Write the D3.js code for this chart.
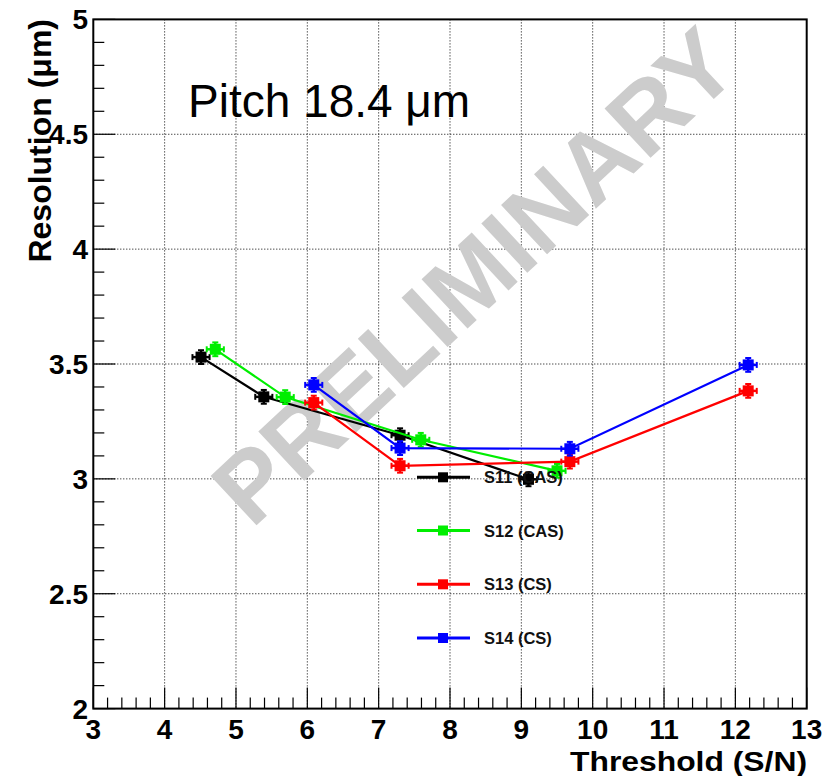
<!DOCTYPE html>
<html><head><meta charset="utf-8">
<script src="https://cdn.jsdelivr.net/npm/d3@7"></script>
<style>body{margin:0;background:#fff}svg{display:block}</style>
</head><body>
<script>
// ---- data ----
const xTicks = [3,4,5,6,7,8,9,10,11,12,13];
const yTicks = [2,2.5,3,3.5,4,4.5,5];
const yTickLabels = ["2","2.5","3","3.5","4","4.5","5"];
const seriesNames = ["S11 (CAS)","S12 (CAS)","S13 (CS)","S14 (CS)"];
const seriesColors = ["#000000","#00ee00","#ff0000","#0000ff"];
const s11x = [4.51,5.39,7.30,9.10];
const s11y = [3.53,3.357,3.19,2.998];
const s12x = [4.71,5.69,7.59,9.50];
const s12y = [3.564,3.356,3.17,3.035];
const s13x = [6.09,7.30,9.68,12.18];
const s13y = [3.332,3.057,3.075,3.383];
const s14x = [6.09,7.30,9.68,12.18];
const s14y = [3.409,3.134,3.131,3.496];
const xErr = [0.12,0.12,0.12,0.12];
const yErr = [0.03,0.03,0.03,0.03];
const seriesX = [s11x,s12x,s13x,s14x];
const seriesY = [s11y,s12y,s13y,s14y];

const W=837,H=776;
const L=93.3,R=806.7,T=19.4,B=708.6;
const svg=d3.select("body").append("svg").attr("width",W).attr("height",H);
const x=d3.scaleLinear().domain([3,13]).range([L,R]);
const y=d3.scaleLinear().domain([2,5]).range([B,T]);
const font="'Liberation Sans', Arial, sans-serif";

// grid
const g=svg.append("g");
g.selectAll(".gx").data(xTicks.filter(t=>t>3&&t<13)).join("line")
 .attr("x1",d=>x(d)).attr("x2",d=>x(d)).attr("y1",T).attr("y2",B)
 .attr("stroke","#000").attr("stroke-width",1).attr("stroke-dasharray","1,2");
g.selectAll(".gy").data(yTicks.filter(t=>t>2&&t<5)).join("line")
 .attr("y1",d=>y(d)).attr("y2",d=>y(d)).attr("x1",L).attr("x2",R)
 .attr("stroke","#000").attr("stroke-width",1).attr("stroke-dasharray","1,2");

// watermark
svg.append("text").text("PRELIMINARY")
 .attr("transform","translate(474,276) rotate(-43)")
 .attr("text-anchor","middle").attr("dominant-baseline","central")
 .attr("font-family",font).attr("font-weight","bold").attr("font-size",98)
 .attr("fill","#cccccc");

// ticks
const minorX=d3.range(3,13.001,0.2).map(v=>+v.toFixed(2));
svg.selectAll(".tx").data(minorX).join("line")
 .attr("x1",d=>x(d)).attr("x2",d=>x(d)).attr("y1",B)
 .attr("y2",d=>Math.abs(d-Math.round(d))<1e-6?B-21:B-11)
 .attr("stroke","#000").attr("stroke-width",1.2);
const minorY=d3.range(2,5.001,0.1).map(v=>+v.toFixed(2));
svg.selectAll(".ty").data(minorY).join("line")
 .attr("y1",d=>y(d)).attr("y2",d=>y(d)).attr("x1",L)
 .attr("x2",d=>Math.abs(d*2-Math.round(d*2))<1e-6?L+22:L+11)
 .attr("stroke","#000").attr("stroke-width",1.2);

// frame
svg.append("rect").attr("x",L).attr("y",T).attr("width",R-L).attr("height",B-T)
 .attr("fill","none").attr("stroke","#000").attr("stroke-width",2);

// tick labels
svg.selectAll(".lx").data(xTicks).join("text").text(d=>d)
 .attr("x",d=>x(d)).attr("y",739).attr("text-anchor","middle")
 .attr("font-family",font).attr("font-weight","bold").attr("font-size",28);
svg.selectAll(".ly").data(yTicks).join("text").text((d,i)=>yTickLabels[i])
 .attr("x",88).attr("y",d=>y(d)+10).attr("text-anchor","end")
 .attr("font-family",font).attr("font-weight","bold").attr("font-size",28);

// axis titles
svg.append("text").text("Threshold (S/N)").attr("x",570).attr("y",771)
 .attr("textLength",237).attr("lengthAdjust","spacingAndGlyphs")
 .attr("font-family",font).attr("font-weight","bold").attr("font-size",28.5);
svg.append("text").text("Resolution (μm)")
 .attr("transform","translate(51,19) rotate(-90)").attr("text-anchor","end")
 .attr("font-family",font).attr("font-weight","bold").attr("font-size",32);

// pitch label
svg.append("text").text("Pitch 18.4 μm").attr("x",188).attr("y",117)
 .attr("font-family",font).attr("font-size",46);

// series
const line=d3.line().x(d=>x(d[0])).y(d=>y(d[1]));
seriesX.forEach((xs,si)=>{
  const col=seriesColors[si];
  const pts=xs.map((v,i)=>[v,seriesY[si][i]]);
  const sg=svg.append("g");
  sg.append("path").datum(pts).attr("d",line).attr("fill","none").attr("stroke",col).attr("stroke-width",2.2);
  const pg=sg.selectAll("g").data(pts).join("g");
  pg.append("line").attr("x1",(d,i)=>x(d[0]-xErr[i])).attr("x2",(d,i)=>x(d[0]+xErr[i]))
    .attr("y1",d=>y(d[1])).attr("y2",d=>y(d[1])).attr("stroke",col).attr("stroke-width",2.5);
  pg.append("line").attr("x1",d=>x(d[0])).attr("x2",d=>x(d[0]))
    .attr("y1",(d,i)=>y(d[1]-yErr[i])).attr("y2",(d,i)=>y(d[1]+yErr[i])).attr("stroke",col).attr("stroke-width",2.5);
  [-1,1].forEach(s=>{
    pg.append("line").attr("x1",(d,i)=>x(d[0]+s*xErr[i])).attr("x2",(d,i)=>x(d[0]+s*xErr[i]))
      .attr("y1",d=>y(d[1])-3).attr("y2",d=>y(d[1])+3).attr("stroke",col).attr("stroke-width",2);
    pg.append("line").attr("y1",(d,i)=>y(d[1]+s*yErr[i])).attr("y2",(d,i)=>y(d[1]+s*yErr[i]))
      .attr("x1",d=>x(d[0])-3).attr("x2",d=>x(d[0])+3).attr("stroke",col).attr("stroke-width",2);
  });
  pg.append("rect").attr("x",d=>x(d[0])-5.5).attr("y",d=>y(d[1])-5.5).attr("width",11).attr("height",11).attr("fill",col);
});

// legend
const legY=[477.3,530.5,584.3,638];
seriesNames.forEach((n,i)=>{
  const col=seriesColors[i];
  svg.append("line").attr("x1",417).attr("x2",470).attr("y1",legY[i]).attr("y2",legY[i])
    .attr("stroke",col).attr("stroke-width",3);
  svg.append("rect").attr("x",438).attr("y",legY[i]-5).attr("width",10).attr("height",10).attr("fill",col);
  svg.append("text").text(n).attr("x",484).attr("y",legY[i]+6)
    .attr("font-family",font).attr("font-weight","bold").attr("font-size",16.5).attr("fill","#111");
});
</script>
</body></html>
